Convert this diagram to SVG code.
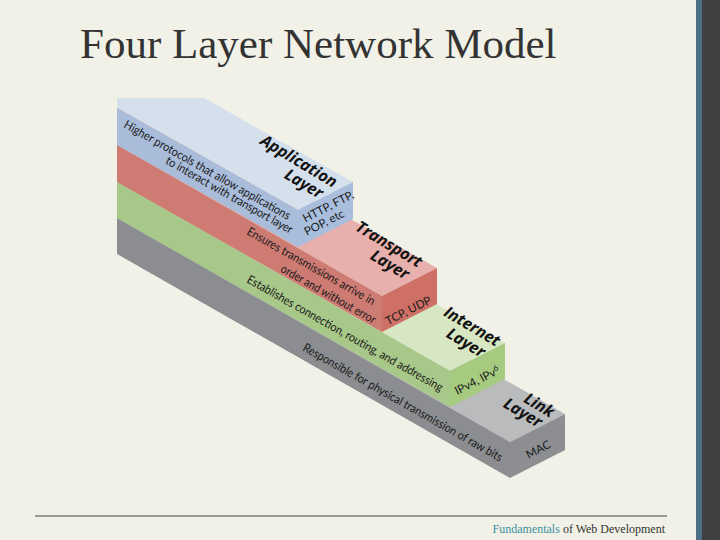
<svg xmlns="http://www.w3.org/2000/svg" width="720" height="540" viewBox="0 0 720 540">
<defs>
<clipPath id="clip"><rect x="117" y="98" width="460" height="400"/></clipPath>
<style>
.ft{font-family:Lato,"Open Sans","DejaVu Sans",sans-serif;font-size:12px;fill:#1a1a1a}
.lb{font-family:"Open Sans","DejaVu Sans",sans-serif;font-size:16px;font-weight:bold;font-style:italic;fill:#111}
.ef{font-family:Lato,"Open Sans","DejaVu Sans",sans-serif;font-size:11.5px;fill:#1a1a1a}
</style>
</defs>
<rect width="720" height="540" fill="#f2f1e7"/>
<rect x="696" y="0" width="6" height="540" fill="#4a7085"/>
<rect x="702" y="0" width="18" height="540" fill="#404040"/>
<text x="80" y="58" font-family="Liberation Serif,serif" font-size="43" fill="#333">Four Layer Network Model</text>
<line x1="35" y1="516" x2="667" y2="516" stroke="#444" stroke-width="1"/>
<text x="665" y="533" text-anchor="end" font-family="Liberation Serif,serif" font-size="12" fill="#333"><tspan fill="#3a8fa0">Fundamentals</tspan> of Web Development</text>
<g clip-path="url(#clip)">
<g id="link">
<polygon points="-83,105 510,442 565,414 -28,77" fill="#b9bbbd"/>
<polygon points="117,218 510,442 510,478 117,254" fill="#8b8d90"/>
<polygon points="510,442 565,414 565,450 510,478" fill="#8c8e92"/>
</g>
<g id="internet">
<polygon points="-83,69 450,371 505,343 -28,41" fill="#d7e6c3"/>
<polygon points="117,182 450,371 450,407 117,218" fill="#a8c88a"/>
<polygon points="450,371 505,343 505,379 450,407" fill="#a6ca80"/>
</g>
<g id="transport">
<polygon points="-83,32 382,296 437,268 -28,4" fill="#e8b0ac"/>
<polygon points="117,145 382,296 382,332 117,182" fill="#cd7b73"/>
<polygon points="382,296 437,268 437,304 382,332" fill="#cf7067"/>
</g>
<g id="application">
<polygon points="-83,-5 298,210 353,182 -28,-33" fill="#d5e0ed"/>
<polygon points="117,108 298,210 298,247 117,145" fill="#a9bcd9"/>
<polygon points="298,210 353,182 353,219 298,247" fill="#a8bedc"/>
</g>
</g>
<g id="texts">
<text class="ft" textLength="189" lengthAdjust="spacingAndGlyphs" transform="translate(123,127) rotate(29.5)">Higher protocols that allow applications</text>
<text class="ft" text-anchor="end" textLength="144" lengthAdjust="spacingAndGlyphs" transform="translate(290,234) rotate(29.5)">to interact with transport layer</text>
<text class="lb" text-anchor="end" transform="translate(333,188) rotate(31)">Application</text>
<text class="lb" text-anchor="end" transform="translate(319,199) rotate(31)">Layer</text>
<text class="ef" text-anchor="middle" transform="translate(330,210) rotate(-27)">HTTP, FTP,</text>
<text class="ef" text-anchor="middle" transform="translate(326,226) rotate(-27)">POP, etc</text>

<text class="ft" textLength="145" lengthAdjust="spacingAndGlyphs" transform="translate(246,234) rotate(29.5)">Ensures transmissions arrive in</text>
<text class="ft" text-anchor="end" textLength="107" lengthAdjust="spacingAndGlyphs" transform="translate(373,324) rotate(29.5)">order and without error</text>
<text class="lb" text-anchor="end" transform="translate(418,268) rotate(31)">Transport</text>
<text class="lb" text-anchor="end" transform="translate(405,280) rotate(31)">Layer</text>
<text class="ef" text-anchor="middle" transform="translate(410,314) rotate(-27)">TCP, UDP</text>

<text class="ft" textLength="223" lengthAdjust="spacingAndGlyphs" transform="translate(246,282) rotate(29.5)">Establishes connection, routing, and addressing</text>
<text class="lb" text-anchor="end" transform="translate(496,347) rotate(31)">Internet</text>
<text class="lb" text-anchor="end" transform="translate(481,358) rotate(31)">Layer</text>
<text class="ef" text-anchor="middle" transform="translate(479,384) rotate(-27)">IPv4, IPv<tspan dy="-4" font-size="8">6</tspan></text>

<text class="ft" textLength="227" lengthAdjust="spacingAndGlyphs" transform="translate(302,350) rotate(29.5)">Responsible for physical transmission of raw bits</text>
<text class="lb" text-anchor="end" transform="translate(550,418) rotate(31)">Link</text>
<text class="lb" text-anchor="end" transform="translate(538,428) rotate(31)">Layer</text>
<text class="ef" text-anchor="middle" transform="translate(540,453) rotate(-27)">MAC</text>
</g>
</svg>
